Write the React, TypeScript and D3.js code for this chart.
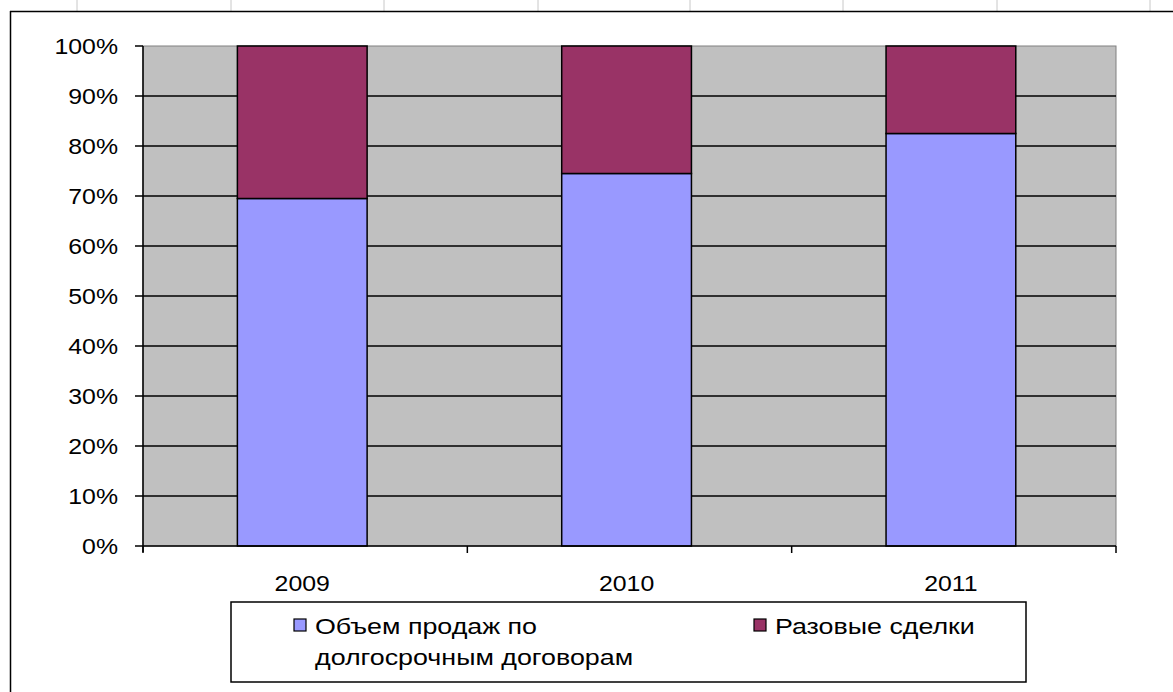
import React from "react";
import * as d3 from "d3";

const categories = ["2009", "2010", "2011"];
const longTerm = [69.5, 74.5, 82.5];
const oneOff = [30.5, 25.5, 17.5];
const yTicks = [0, 10, 20, 30, 40, 50, 60, 70, 80, 90, 100];
const seriesNames = ["Объем продаж по долгосрочным договорам", "Разовые сделки"];
const legendLines = [["Объем продаж по", "долгосрочным договорам"], ["Разовые сделки"]];
const colors = ["#9999FF", "#993366"];
const sheetCols = [77, 231, 384, 538, 690, 843, 997, 1150];

const W = 1173;
const H = 692;
const plot = { left: 143, right: 1116, top: 46, bottom: 546 };
const FONT = "'Liberation Sans', Arial, sans-serif";
const AX_FS = 22;
const AX_SX = 1.13;
const LG_FS = 22;
const LG_SX = 1.22;

export default function App() {
  const x = d3
    .scaleBand<string>()
    .domain(categories)
    .range([plot.left, plot.right])
    .paddingInner(0.6)
    .paddingOuter(0.3)
    .align(0.485);
  const xb = d3.scaleBand<string>().domain(categories).range([plot.left, plot.right]).padding(0);
  const y = d3.scaleLinear().domain([0, 100]).range([plot.bottom, plot.top]);
  const stack = categories.map((c, i) => [
    { y0: 0, y1: longTerm[i] },
    { y0: longTerm[i], y1: longTerm[i] + oneOff[i] },
  ]);
  const boundaries = [...categories.map((c) => xb(c)!), plot.right];

  return (
    <svg
      width={W}
      height={H}
      style={{ position: "absolute", left: 0, top: 0, background: "#fff" }}
      fontFamily={FONT}
    >
      {/* spreadsheet grid above chart */}
      {sheetCols.map((cx) => (
        <line key={cx} x1={cx} x2={cx} y1={0} y2={11} stroke="#c8c8c8" strokeWidth={1} />
      ))}
      {/* chart area border */}
      <line x1={10} x2={W} y1={11.5} y2={11.5} stroke="#000" strokeWidth={1.5} />
      <line x1={10.5} x2={10.5} y1={11} y2={H} stroke="#000" strokeWidth={1.5} />

      {/* plot area */}
      <rect
        x={plot.left}
        y={plot.top}
        width={plot.right - plot.left}
        height={plot.bottom - plot.top}
        fill="#C0C0C0"
        stroke="#808080"
        strokeWidth={1}
      />
      {yTicks
        .filter((t) => t > 0 && t < 100)
        .map((t) => (
          <line key={t} x1={plot.left} x2={plot.right} y1={y(t)} y2={y(t)} stroke="#000" strokeWidth={1.5} />
        ))}

      {/* bars */}
      {categories.map((c, i) =>
        stack[i].map((s, k) => (
          <rect
            key={c + k}
            x={x(c)}
            y={y(s.y1)}
            width={x.bandwidth()}
            height={y(s.y0) - y(s.y1)}
            fill={colors[k]}
            stroke="#000"
            strokeWidth={1.5}
          >
            <title>{seriesNames[k]}</title>
          </rect>
        ))
      )}

      {/* y axis */}
      <line x1={plot.left} x2={plot.left} y1={plot.top} y2={plot.bottom + 6} stroke="#000" strokeWidth={1.5} />
      {yTicks.map((t) => (
        <g key={t}>
          <line x1={plot.left - 8} x2={plot.left} y1={y(t)} y2={y(t)} stroke="#000" strokeWidth={1.5} />
          <text
            transform={`translate(118,${y(t)}) scale(${AX_SX},1)`}
            textAnchor="end"
            dy="0.36em"
            fontSize={AX_FS}
            fill="#000"
          >
            {t + "%"}
          </text>
        </g>
      ))}

      {/* x axis */}
      <line x1={plot.left} x2={plot.right} y1={plot.bottom} y2={plot.bottom} stroke="#000" strokeWidth={1.5} />
      {boundaries.map((b, i) => (
        <line key={i} x1={b} x2={b} y1={plot.bottom} y2={plot.bottom + 7} stroke="#000" strokeWidth={1.5} />
      ))}
      {categories.map((c) => (
        <text
          key={c}
          transform={`translate(${x(c)! + x.bandwidth() / 2},591) scale(${AX_SX},1)`}
          textAnchor="middle"
          fontSize={AX_FS}
          fill="#000"
        >
          {c}
        </text>
      ))}

      {/* legend */}
      <rect x={231} y={602} width={795} height={80} fill="#fff" stroke="#000" strokeWidth={1.5} />
      {legendLines.map((lines, k) => {
        const lx = k === 0 ? 294 : 754;
        return (
          <g key={k}>
            <rect x={lx} y={619} width={12} height={12} fill={colors[k]} stroke="#000" strokeWidth={1.2} />
            {lines.map((ln, j) => (
              <text
                key={j}
                transform={`translate(${lx + 21},${634 + j * 31}) scale(${LG_SX},1)`}
                fontSize={LG_FS}
                fill="#000"
              >
                {ln}
              </text>
            ))}
          </g>
        );
      })}
    </svg>
  );
}
